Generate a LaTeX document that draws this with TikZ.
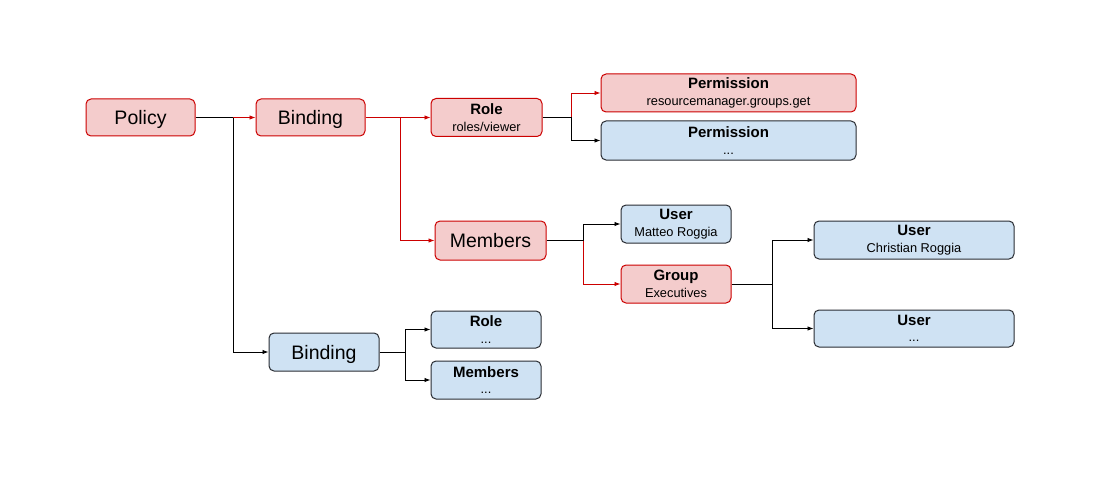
\documentclass[tikz,border=0pt]{standalone}
\usepackage{fontspec}
\setmainfont{Liberation Sans}
\usetikzlibrary{arrows.meta}
\definecolor{redfill}{HTML}{F4CCCC}
\definecolor{redline}{HTML}{CC0000}
\definecolor{bluefill}{HTML}{CFE2F3}
\definecolor{blueline}{HTML}{2A2D33}
\newcommand\ttl[1]{{\fontsize{15}{16.5}\selectfont\bfseries #1}}
\begin{document}
\begin{tikzpicture}[x=1pt,y=-1pt,
  box/.style={draw, rounded corners=5pt, line width=1pt, inner sep=0pt, align=center,
    font=\fontsize{12.8}{16.5}\selectfont},
  redbox/.style={box, fill=redfill, draw=redline},
  bluebox/.style={box, fill=bluefill, draw=blueline},
  big/.style={font=\fontsize{19.5}{21}\selectfont, text depth=0pt},
  conn/.style={line width=0.9pt, draw=black},
  rconn/.style={line width=0.9pt, draw=redline},
  tip/.style={-{Latex[length=6pt,width=4.5pt]}},
]
\useasboundingbox (0,0) rectangle (1100,500);
\fill[white] (0,0) rectangle (1100,500);

% nodes
\node[redbox, big, minimum width=109pt, minimum height=37pt] (policy) at (140.5,117.5) {Policy};
\node[redbox, big, minimum width=109pt, minimum height=37pt] (bind1) at (310.5,117.5) {Binding};
\node[redbox, minimum width=111pt, minimum height=38pt] (role) at (486.5,117.5) {\ttl{Role}\\roles/viewer};
\node[redbox, minimum width=255pt, minimum height=38pt] (perm1) at (728.5,93) {\ttl{Permission}\\resourcemanager.groups.get};
\node[bluebox, minimum width=255pt, minimum height=39pt] (perm2) at (728.5,140.5) {\ttl{Permission}\\...};
\node[redbox, big, minimum width=111pt, minimum height=39pt] (members) at (490.5,240.5) {Members};
\node[bluebox, minimum width=110pt, minimum height=38pt] (usermr) at (676,224) {\ttl{User}\\Matteo Roggia};
\node[redbox, minimum width=110pt, minimum height=38pt] (group) at (676,284) {\ttl{Group}\\Executives};
\node[bluebox, minimum width=200pt, minimum height=38pt] (usercr) at (914,240) {\ttl{User}\\Christian Roggia};
\node[bluebox, minimum width=200pt, minimum height=37pt] (userx) at (914,328.5) {\ttl{User}\\...};
\node[bluebox, big, minimum width=110pt, minimum height=38pt] (bind2) at (324,352) {Binding};
\node[bluebox, minimum width=110pt, minimum height=37pt] (role2) at (486,329.5) {\ttl{Role}\\...};
\node[bluebox, minimum width=110pt, minimum height=38pt] (mem2) at (486,380) {\ttl{Members}\\...};

% junctions
\coordinate (j1) at (233,117.5);
\coordinate (j2) at (400,117.5);
\coordinate (j3) at (571,117.5);
\coordinate (j4) at (583,240.5);
\coordinate (j5) at (772,284);
\coordinate (j6) at (405,352);

% connectors
\draw[conn] (policy.east) -- (j1);
\draw[conn, tip] (j1) |- (bind2.west);
\draw[rconn, tip] (j1) -- (bind1.west);

\draw[rconn, tip] (bind1.east) -- (role.west);
\draw[rconn, tip] (j2) |- (members.west);

\draw[conn] (role.east) -- (j3);
\draw[conn, tip] (j3) |- (perm2.west);
\draw[rconn, tip] (j3) |- (perm1.west);

\draw[conn] (members.east) -- (j4);
\draw[conn, tip] (j4) |- (usermr.west);
\draw[rconn, tip] (j4) |- (group.west);

\draw[conn] (group.east) -- (j5);
\draw[conn, tip] (j5) |- (usercr.west);
\draw[conn, tip] (j5) |- (userx.west);

\draw[conn] (bind2.east) -- (j6);
\draw[conn, tip] (j6) |- (role2.west);
\draw[conn, tip] (j6) |- (mem2.west);
\end{tikzpicture}
\end{document}
